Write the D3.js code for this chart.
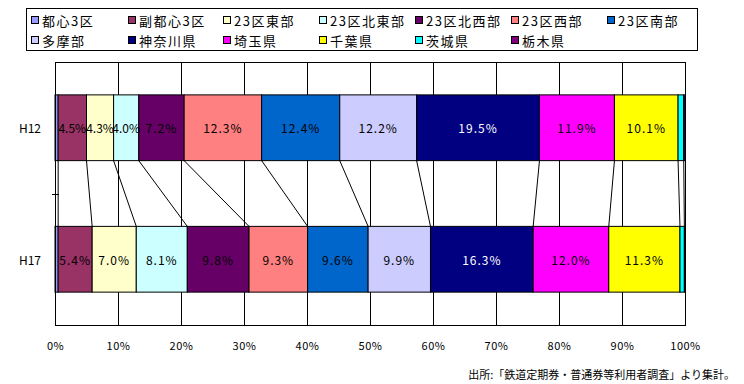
<!DOCTYPE html>
<html><head><meta charset="utf-8">
<script src="https://cdn.jsdelivr.net/npm/d3@7"></script>
<style>
body{margin:0;background:#fff;}
text{font-family:"Noto Sans CJK JP","Noto Sans",sans-serif;}
</style></head>
<body><svg id="c" width="744" height="384"></svg>
<script>
const categories = ["H12","H17"];
const seriesNames = ["都心3区","副都心3区","23区東部","23区北東部","23区北西部","23区西部","23区南部","多摩部","神奈川県","埼玉県","千葉県","茨城県","栃木県"];
const seriesColors = ["#9999FF","#993366","#FFFFCC","#CCFFFF","#660066","#FF8080","#0066CC","#CCCCFF","#000080","#FF00FF","#FFFF00","#00FFFF","#800080"];
const valuesH12 = [0.5,4.5,4.3,4.0,7.2,12.3,12.4,12.2,19.5,11.9,10.1,0.9,0.2];
const valuesH17 = [0.5,5.4,7.0,8.1,9.8,9.3,9.6,9.9,16.3,12.0,11.3,0.7,0.1];
const labelShown = [false,true,true,true,true,true,true,true,true,true,true,false,false];
const whiteLabel = ["神奈川県"];
const xTicks = [0,10,20,30,40,50,60,70,80,90,100];
const sourceText = "出所:「鉄道定期券・普通券等利用者調査」より集計。";

const svg = d3.select("#c");
const L=55,R=685,T=62,B=325;
const x = d3.scaleLinear().domain([0,100]).range([L,R]);
const y = d3.scaleBand().domain(categories).range([T,B]).paddingInner(0.5).paddingOuter(0.25);

// grid lines
svg.append("g").selectAll("line").data(xTicks).join("line")
  .attr("x1",d=>x(d)+0.5).attr("x2",d=>x(d)+0.5).attr("y1",T).attr("y2",B)
  .attr("stroke","#000").attr("stroke-width",1);

const data = [valuesH12, valuesH17];
const rows = categories.map((c,i)=>{
  let cum=0;
  return data[i].map((v,j)=>{const s={cat:c,name:seriesNames[j],j,v,x0:cum,x1:cum+v};cum+=v;return s;});
});

// series lines
for(let j=0;j<seriesNames.length-1;j++){
  const a=rows[0][j].x1, b=rows[1][j].x1;
  svg.append("line").attr("x1",x(a)).attr("y1",y("H12")+y.bandwidth())
    .attr("x2",x(b)).attr("y2",y("H17")).attr("stroke","#000").attr("stroke-width",1);
}

// bars
rows.forEach(r=>{
  const g=svg.append("g");
  g.selectAll("rect").data(r).join("rect")
    .attr("x",d=>x(d.x0)).attr("width",d=>x(d.x1)-x(d.x0))
    .attr("y",d=>y(d.cat)).attr("height",y.bandwidth())
    .attr("fill",d=>seriesColors[d.j]).attr("stroke","#000").attr("stroke-width",1);
  g.selectAll("text").data(r.filter(d=>labelShown[d.j])).join("text")
    .attr("x",d=>x((d.x0+d.x1)/2)).attr("y",d=>y(d.cat)+y.bandwidth()/2)
    .attr("text-anchor","middle").attr("dominant-baseline","central")
    .attr("font-size",12).attr("letter-spacing",d=>d.v<5?0:1)
    .attr("fill",d=>whiteLabel.includes(d.name)?"#fff":"#000")
    .text(d=>d.v.toFixed(1)+"%");
});

// plot border
svg.append("rect").attr("x",L+0.5).attr("y",T+0.5).attr("width",R-L).attr("height",B-T)
  .attr("fill","none").attr("stroke","#000").attr("stroke-width",1);

// category tick on left
svg.append("line").attr("x1",L-3).attr("x2",L+4).attr("y1",Math.round((T+B)/2)+0.5).attr("y2",Math.round((T+B)/2)+0.5)
  .attr("stroke","#000");

// y labels
svg.append("g").selectAll("text").data(categories).join("text")
  .attr("x",41).attr("y",d=>y(d)+y.bandwidth()/2).attr("text-anchor","end")
  .attr("dominant-baseline","central").attr("font-size",12).text(d=>d);

// x axis labels
const xAxis = d3.axisBottom(x).tickValues(xTicks).tickSize(0).tickPadding(0).tickFormat(d=>d+"%");
const ax = svg.append("g").attr("transform",`translate(0,${B+17})`).call(xAxis);
ax.select(".domain").remove();
ax.selectAll("text").attr("font-size",11).attr("letter-spacing",0.5)
  .attr("font-family","\"Noto Sans CJK JP\",sans-serif").attr("fill","#000");

// legend
const legend = svg.append("g");
legend.append("rect").attr("x",26.5).attr("y",8.5).attr("width",671).attr("height",42)
  .attr("fill","#fff").attr("stroke","#000");
const colX=[31,128,223,319,415,511,607];
seriesNames.forEach((n,i)=>{
  const row = i<7?0:1, col = i<7?i:i-7;
  const lx=colX[col], ly= row===0?20:40;
  legend.append("rect").attr("x",lx+0.5).attr("y",ly-3.5).attr("width",7).attr("height",7)
    .attr("fill",seriesColors[i]).attr("stroke","#000");
  legend.append("text").attr("x",lx+11).attr("y",ly).attr("dominant-baseline","central")
    .attr("font-size",13).attr("letter-spacing",1.5).text(n);
});

// source
svg.append("text").attr("x",735).attr("y",374).attr("text-anchor","end")
  .attr("dominant-baseline","central").attr("font-size",11).text(sourceText);
</script></body></html>
